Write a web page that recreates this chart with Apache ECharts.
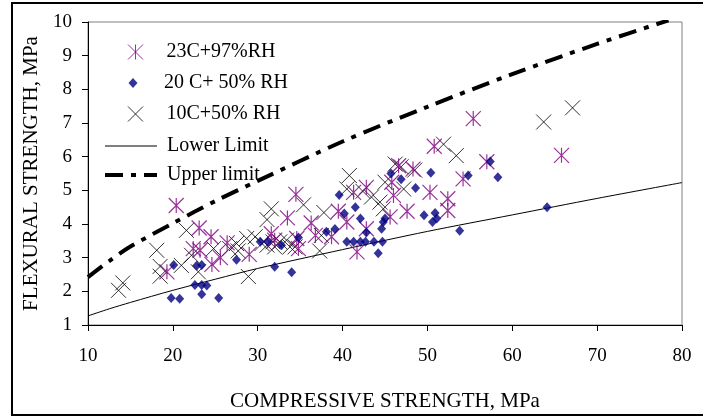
<!DOCTYPE html>
<html><head><meta charset="utf-8">
<script src="https://cdn.jsdelivr.net/npm/echarts@6/dist/echarts.min.js"></script>
<style>html,body{margin:0;padding:0;background:#fff}#c{width:703px;height:417px}</style>
</head><body><div id="c"></div>
<script>
var xTicks = [10,20,30,40,50,60,70,80];
var yTicks = [1,2,3,4,5,6,7,8,9,10];
var seriesNames = ['23C+97%RH','20 C+ 50% RH','10C+50% RH','Lower Limit','Upper limit'];

var humid23 = [[19.3,2.58],[20.4,4.55],[22.4,3.27],[23.2,3.22],[23.1,3.88],[24.5,3.62],[24.6,2.80],[25.6,3.0],[26.4,3.44],
  [29.0,3.1],[31.6,3.71],[32.0,3.52],[33.5,4.18],[34.5,4.88],[34.6,3.57],[34.8,3.27],[36.3,4.03],[36.8,3.66],[38.7,3.62],
  [39.5,4.38],[40.5,4.06],[41.3,4.94],[41.7,3.17],[42.8,5.09],[42.8,3.86],[45.8,5.24],[46.0,4.85],[46.6,5.73],[48.3,5.63],
  [45.6,4.21],[47.6,4.38],[50.3,4.94],[50.8,6.31],[52.4,4.75],[52.4,4.40],[54.2,5.34],[55.4,7.13],[57.0,5.85],[65.8,6.04]];

var dry20 = [[20.1,2.78],[19.8,1.80],[20.8,1.78],[22.8,2.76],[23.4,2.78],[22.6,2.19],[23.4,2.19],[24.0,2.17],[23.4,1.91],
  [25.4,1.80],[27.5,2.94],[30.3,3.47],[31.2,3.47],[32.0,2.73],[32.8,3.37],[34.0,2.57],[34.8,3.60],[38.1,3.77],[39.1,3.85],
  [39.6,4.86],[40.2,4.31],[41.5,4.5],[40.5,3.47],[41.3,3.47],[42.1,3.47],[42.7,3.47],[43.7,3.47],[44.7,3.47],[42.8,3.75],
  [42.1,4.16],[44.2,3.13],[44.6,3.86],[44.8,4.06],[45.0,4.16],[45.7,5.50],[46.9,5.33],[48.6,5.07],[49.6,4.26],[50.4,5.52],
  [50.9,4.33],[51.1,4.16],[50.6,4.06],[53.8,3.80],[54.8,5.44],[57.4,5.86],[58.3,5.39],[64.1,4.50]];

var cold10 = [[13.6,2.03],[14.1,2.25],[18.1,3.22],[18.5,2.74],[18.5,2.45],[21.0,2.77],[21.6,3.81],[22.2,3.07],[23.0,2.58],
  [24.8,3.27],[26.7,3.27],[27.5,3.42],[27.7,3.2],[28.7,3.57],[29.7,3.62],[28.9,2.44],[30.5,3.42],[31.1,3.37],[31.1,4.13],
  [31.6,4.45],[31.8,3.47],[32.0,3.32],[32.6,3.47],[33.4,3.52],[33.8,3.32],[34.4,3.32],[35.4,4.57],[37.3,3.20],[37.5,3.66],
  [37.8,4.34],[40.5,5.04],[40.8,5.44],[42.4,4.97],[43.4,4.80],[44.4,4.65],[44.8,4.45],[45.0,5.24],[46.2,5.78],[46.9,5.70],
  [47.2,5.04],[48.5,5.60],[51.9,6.37],[53.4,6.03],[63.7,7.03],[67.1,7.45]];

var lowerLimit = [[10,1.27],[12.5,1.48],[15,1.67],[20,2.03],[25,2.36],[30,2.68],[40,3.24],[50,3.78],[60,4.27],[70,4.76],[80,5.23]];
var upperLimit = [[10,2.42],[12.5,2.9],[15,3.33],[20,4.02],[25,4.68],[30,5.28],[40,6.45],[50,7.48],[60,8.45],[70,9.35],[78.4,10.05]];

var FONT = '"Liberation Serif","Times New Roman",serif';
var STAR = 'path://M0,0L10,10M10,0L0,10M5,0L5,10';
var CROSS = 'path://M0,0L10,10M10,0L0,10';
var DASHDOT = 'path://M0,0h18v4h-18zM26,0h5v4h-5zM39,0h13v4h-13z';

var chart = echarts.init(document.getElementById('c'));
function lg(w, h, cx, top, textX, data){
  var left = cx - w/2;
  return {orient:'vertical', left:left, top:top, itemWidth:w, itemHeight:h, padding:0,
    selectedMode:false, symbolKeepAspect:false, data:data,
    textStyle:{fontFamily:FONT, fontSize:20, color:'#000', lineHeight:22, padding:[0,0,0,textX-(left+w+5)]}};
}

chart.setOption({
  animation:false,
  backgroundColor:'#fff',
  graphic:[{type:'rect', shape:{x:12,y:3,width:700,height:412}, style:{fill:'none',stroke:'#000',lineWidth:2}, silent:true}],
  grid:{left:88, right:21, top:22, bottom:90, show:true, borderColor:'#808080', borderWidth:1},
  legend:[
    lg(15,15,133,41,164,[{name:seriesNames[0], icon:STAR, itemStyle:{color:'none', borderColor:'#800080', borderWidth:1}}]),
    lg(9,10,133,72,164,[{name:seriesNames[1], icon:'diamond', itemStyle:{color:'#000080'}}]),
    lg(15,15,133,103,164,[{name:seriesNames[2], icon:CROSS, itemStyle:{color:'none', borderColor:'#000', borderWidth:1}}]),
    lg(52,1,131,135,167,[{name:seriesNames[3], icon:'rect', itemStyle:{color:'#000', borderWidth:0}}]),
    lg(52,4,131,164,167,[{name:seriesNames[4], icon:DASHDOT, itemStyle:{color:'#000', borderWidth:0}}])
  ],
  xAxis:{type:'value', min:xTicks[0], max:xTicks[xTicks.length-1], interval:10,
    name:'COMPRESSIVE STRENGTH, MPa', nameLocation:'middle', nameGap:66,
    nameTextStyle:{fontFamily:FONT, fontSize:21, color:'#000'},
    axisLine:{show:true, onZero:false, lineStyle:{color:'#000', width:1}},
    axisTick:{show:true, inside:false, length:6, lineStyle:{color:'#000'}},
    axisLabel:{fontFamily:FONT, fontSize:19, color:'#000', margin:22},
    splitLine:{show:false}},
  yAxis:{type:'value', min:yTicks[0], max:yTicks[yTicks.length-1], interval:1,
    name:'FLEXURAL STRENGTH, MPa', nameLocation:'middle', nameGap:42,
    nameTextStyle:{fontFamily:FONT, fontSize:21, color:'#000'},
    axisLine:{show:true, onZero:false, lineStyle:{color:'#000', width:1}},
    axisTick:{show:true, inside:false, length:6, lineStyle:{color:'#000'}},
    axisLabel:{fontFamily:FONT, fontSize:19, color:'#000', margin:16},
    splitLine:{show:false}},
  series:[
    {name:seriesNames[3], type:'line', data:lowerLimit, smooth:0.3, symbol:'none', z:1,
      lineStyle:{color:'#000', width:1}, itemStyle:{color:'#000'}},
    {name:seriesNames[4], type:'line', data:upperLimit, smooth:0.3, symbol:'none', z:1,
      lineStyle:{color:'#000', width:4, type:[18,8,5,8]}, itemStyle:{color:'#000'}},
    {name:seriesNames[0], type:'scatter', data:humid23, symbol:STAR, symbolSize:15, z:3,
      itemStyle:{color:'none', borderColor:'#800080', borderWidth:1.2}},
    {name:seriesNames[1], type:'scatter', data:dry20, symbol:'diamond', symbolSize:[9,10], z:4,
      itemStyle:{color:'#000080'}},
    {name:seriesNames[2], type:'scatter', data:cold10, symbol:CROSS, symbolSize:15, z:2,
      itemStyle:{color:'none', borderColor:'#000', borderWidth:1}}
  ]
});
</script></body></html>
